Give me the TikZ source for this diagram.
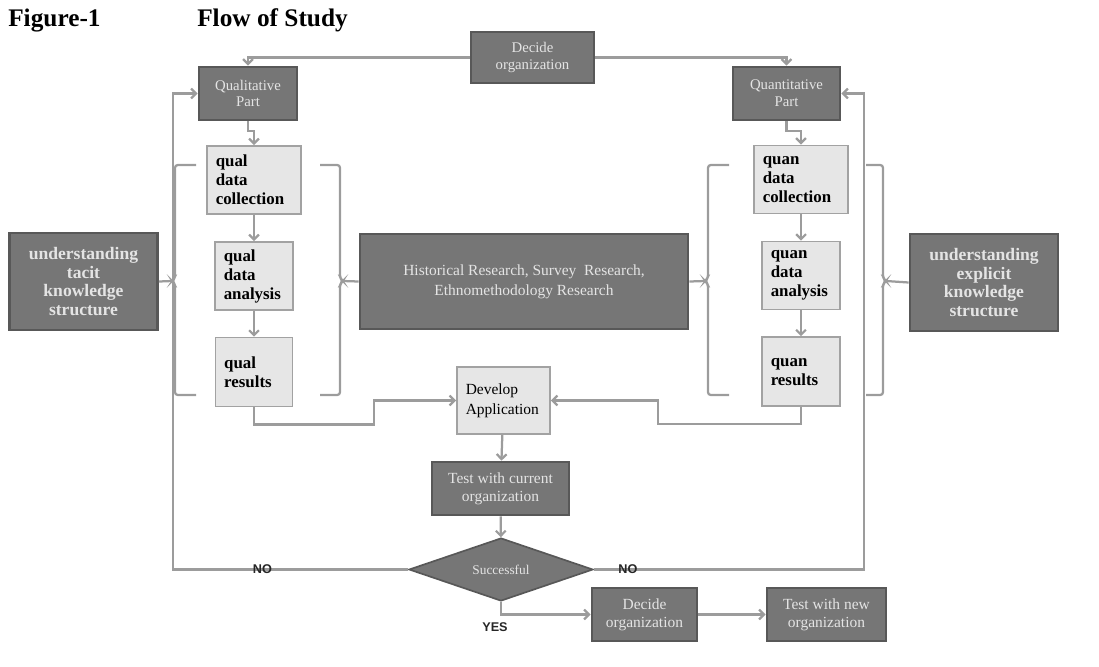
\documentclass[tikz,border=0pt]{standalone}
\usepackage{fontspec}
\setmainfont{Liberation Serif}
\newfontfamily\labelfont{Liberation Sans}
\usetikzlibrary{arrows.meta,shapes.geometric}
\definecolor{boxfill}{HTML}{767676}
\definecolor{boxedge}{HTML}{585858}
\definecolor{boxtext}{HTML}{E4E4E4}
\definecolor{litefill}{HTML}{E6E6E6}
\definecolor{liteedge}{HTML}{A2A2A2}
\definecolor{linegray}{HTML}{9C9C9C}
\tikzstyle{phase} = [draw=boxedge, line width=1.9pt, fill=boxfill, rectangle,
text=boxtext, align=center, font=\fontsize{10.5}{12}\selectfont]
\tikzstyle{task} = [draw=liteedge, line width=1.2pt, fill=litefill, rectangle,
align=left, inner xsep=0.22cm, inner ysep=0.1cm, font=\fontsize{12}{13.5}\selectfont\bfseries]
\tikzstyle{know} = [phase, minimum width=3.7cm, minimum height=2.425cm,
font=\fontsize{12.5}{13.5}\selectfont\bfseries]
\tikzstyle{flow} = [draw=linegray, line width=1.6pt]
\tikzstyle{brk} = [draw=linegray, line width=1.6pt, rounded corners=2pt]
\tikzstyle{verdict} = [font=\labelfont\bfseries\fontsize{9}{10}\selectfont, text=black!85, inner sep=1pt]

\begin{document}
\begin{tikzpicture}[x=0.025cm, y=-0.025cm, node distance=2.4cm,
>={Straight Barb[length=3.5pt,width=7pt]}]
\useasboundingbox (0,0) rectangle (1099,666);

\node [anchor=base west, inner sep=0, font=\fontsize{18}{20}\selectfont\bfseries] (fig) at (8,26) {Figure-1};
\node [anchor=base west, inner sep=0, font=\fontsize{18}{20}\selectfont\bfseries] (title) at (197,26) {Flow of Study};

\node [phase, minimum width=3.075cm, minimum height=1.275cm] (decide) at (532.5,57.5) {Decide\\organization};
\node [phase, minimum width=2.45cm, minimum height=1.325cm] (qual) at (248,93.5) {Qualitative\\Part};
\node [phase, minimum width=2.675cm, minimum height=1.325cm] (quan) at (786.5,93.5) {Quantitative\\Part};

\node [task, text width=1.91cm, minimum height=1.7cm] (qualcoll) at (254,180) {qual\\data\\collection};
\node [task, text width=1.51cm, minimum height=1.7cm, below of=qualcoll] (qualana) {qual\\data\\analysis};
\node [task, text width=1.49cm, minimum height=1.725cm, below of=qualana] (qualres) {qual\\results};

\node [task, text width=1.91cm, minimum height=1.7cm] (quancoll) at (801,179.5) {quan\\data\\collection};
\node [task, text width=1.51cm, minimum height=1.7cm, below of=quancoll] (quanana) {quan\\data\\analysis};
\node [task, text width=1.51cm, minimum height=1.725cm, below of=quanana] (quanres) {quan\\results};

\node [know] (tacit) at (83.5,281.5) {understanding\\tacit\\knowledge\\structure};
\node [know] (explicit) at (984,282.5) {understanding\\explicit\\knowledge\\structure};
\node [phase, minimum width=8.2cm, minimum height=2.375cm, font=\fontsize{11}{14}\selectfont] (methods) at (524,281.5) {Historical Research, Survey\ \ Research,\\Ethnomethodology Research};

\node [task, font=\fontsize{11}{14}\selectfont, text width=1.885cm, minimum height=1.675cm] (develop) at (503.5,400.5) {Develop\\Application};
\node [phase, minimum width=3.425cm, minimum height=1.325cm, font=\fontsize{11}{13}\selectfont] (testcur) at (500.5,488.5) {Test with current\\organization};
\node [diamond, draw=boxedge, line width=1.2pt, fill=boxfill, text=boxtext, aspect=3,
minimum width=4.6cm, minimum height=1.575cm, font=\fontsize{9.5}{11}\selectfont] (success) at (501,569.5) {Successful};
\node [phase, minimum width=2.625cm, minimum height=1.325cm, font=\fontsize{11}{13}\selectfont] (decide2) at (644.5,614.5) {Decide\\organization};
\node [phase, minimum width=2.975cm, minimum height=1.325cm, font=\fontsize{11}{13}\selectfont] (testnew) at (826.5,614.5) {Test with new\\organization};
\node [verdict] (yes) at (495,627) {YES};

% brackets round the two columns
\foreach \a/\v/\d [count=\i] in {196/175/-1, 320/340/1, 729/708/-1, 866/883/1} {
  \draw [brk] (\a,165) -- (\v,165) -- (\v,278) -- (\v+3*\d,281) -- (\v,284) -- (\v,395) -- (\a,395);
  \coordinate (tip\i) at (\v+3*\d,281);
}
\draw [flow] (tacit.east) -- (tip1);
\draw [flow] (tip2) -- (methods.west);
\draw [flow] (methods.east) -- (tip3);
\draw [flow] (tip4) -- (explicit.west);

\draw [flow,->] (decide.west) -| (qual.north);
\draw [flow,->] (decide.east) -| (quan.north);
\draw [flow,->] (qual.south) -- ++(0,10) -| (qualcoll.north);
\draw [flow,->] (quan.south) -- ++(0,10) -| (quancoll.north);
\draw [flow,->] (qualcoll) -- (qualana);
\draw [flow,->] (qualana) -- (qualres);
\draw [flow,->] (quancoll) -- (quanana);
\draw [flow,->] (quanana) -- (quanres);

\draw [flow,->] (qualres.south) -- ++(0,17) -| ([xshift=-2.05cm]develop.west) -- (develop.west);
\draw [flow,->] (quanres.south) -- ++(0,17) -| ([xshift=2.675cm]develop.east) -- (develop.east);
\draw [flow,->] (develop) -- (testcur);
\draw [flow,->] (testcur) -- (success);
\draw [flow,->] (success.south) |- (decide2.west);
\draw [flow,->] (decide2) -- (testnew);

\draw [flow,->] (success.west) -- node [verdict, pos=0.62] {NO} ++(-235,0) |- (qual.west);
\draw [flow,->] (success.east) -- node [verdict, pos=0.126] {NO} ++(270,0) |- (quan.east);
\end{tikzpicture}
\end{document}
